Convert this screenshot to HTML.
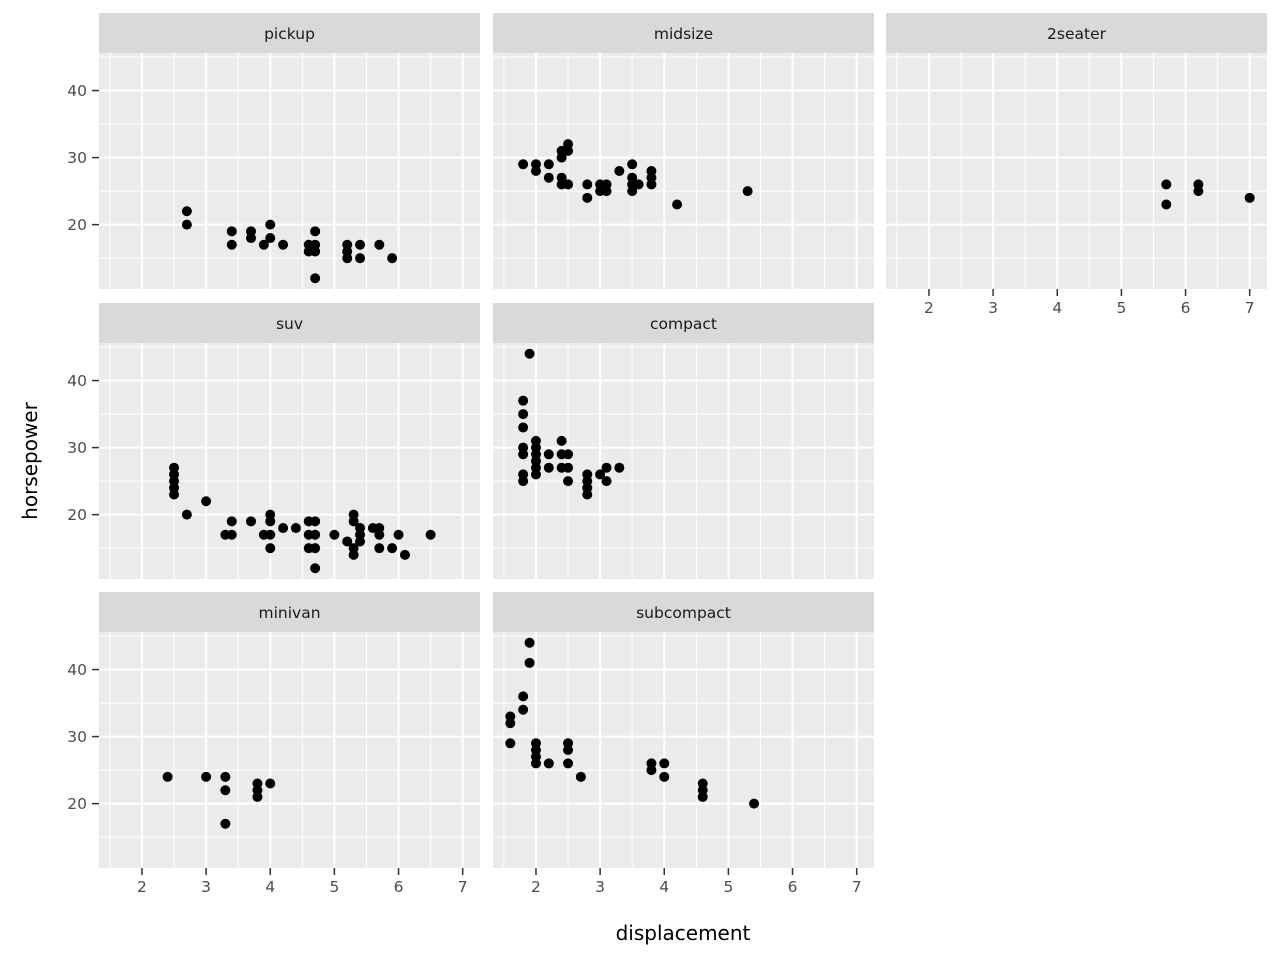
<!DOCTYPE html>
<html><head><meta charset="utf-8"><style>
body{margin:0;background:#fff;}
svg text{font-family:"DejaVu Sans","Liberation Sans",sans-serif;}
</style></head><body>
<svg id="chart" width="1280" height="960" xmlns="http://www.w3.org/2000/svg"></svg>
<script>
const facetNames = ["pickup","midsize","2seater","suv","compact","minivan","subcompact"];
const pickupPts = [[2.7,22],[2.7,20],[3.4,19],[3.4,17],[3.7,19],[3.7,18],[3.9,17],[4.0,20],[4.0,18],[4.2,17],[4.6,17],[4.6,16],[4.7,19],[4.7,17],[4.7,16],[4.7,12],[5.2,17],[5.2,16],[5.2,15],[5.4,17],[5.4,15],[5.7,17],[5.9,15]];
const midsizePts = [[1.8,29],[2.0,29],[2.0,28],[2.2,29],[2.2,27],[2.4,31],[2.4,30],[2.4,27],[2.4,26],[2.5,32],[2.5,31],[2.5,26],[2.8,26],[2.8,24],[3.0,26],[3.0,25],[3.1,26],[3.1,25],[3.3,28],[3.5,29],[3.5,27],[3.5,26],[3.5,25],[3.6,26],[3.8,28],[3.8,27],[3.8,26],[4.2,23],[5.3,25]];
const twoseaterPts = [[5.7,26],[5.7,23],[6.2,26],[6.2,25],[7.0,24]];
const suvPts = [[2.5,27],[2.5,26],[2.5,25],[2.5,24],[2.5,23],[2.7,20],[3.0,22],[3.3,17],[3.4,19],[3.4,17],[3.7,19],[3.9,17],[4.0,20],[4.0,19],[4.0,17],[4.0,15],[4.2,18],[4.4,18],[4.6,19],[4.6,17],[4.6,15],[4.7,19],[4.7,17],[4.7,15],[4.7,12],[5.0,17],[5.2,16],[5.3,20],[5.3,19],[5.3,15],[5.3,14],[5.4,18],[5.4,17],[5.4,16],[5.6,18],[5.7,18],[5.7,17],[5.7,15],[5.9,15],[6.0,17],[6.1,14],[6.5,17]];
const compactPts = [[1.8,37],[1.8,35],[1.8,33],[1.8,30],[1.8,29],[1.8,26],[1.8,25],[1.9,44],[2.0,31],[2.0,30],[2.0,29],[2.0,28],[2.0,27],[2.0,26],[2.2,29],[2.2,27],[2.4,31],[2.4,29],[2.4,27],[2.5,29],[2.5,27],[2.5,25],[2.8,26],[2.8,25],[2.8,24],[2.8,23],[3.0,26],[3.1,27],[3.1,25],[3.3,27]];
const minivanPts = [[2.4,24],[3.0,24],[3.3,24],[3.3,22],[3.3,17],[3.8,23],[3.8,22],[3.8,21],[4.0,23]];
const subcompactPts = [[1.6,33],[1.6,32],[1.6,29],[1.8,36],[1.8,34],[1.9,44],[1.9,41],[2.0,29],[2.0,28],[2.0,27],[2.0,26],[2.2,26],[2.5,29],[2.5,28],[2.5,26],[2.7,24],[3.8,26],[3.8,25],[4.0,26],[4.0,24],[4.6,23],[4.6,22],[4.6,21],[5.4,20]];
const xTicks = [2,3,4,5,6,7];
const yTicks = [20,30,40];
const xMinor = [1.5,2.5,3.5,4.5,5.5,6.5];
const yMinor = [15,25,35,45];

const svg = document.getElementById('chart');
const NS = 'http://www.w3.org/2000/svg';
function mk(tag, attrs, parent){const e=document.createElementNS(NS,tag);for(const k in attrs)e.setAttribute(k,attrs[k]);(parent||svg).appendChild(e);return e;}
const colX=[99,493,886], rowY=[53,343,632], PW=381, PH=236;
const xmin=1.33, xmax=7.27, ymin=10.4, ymax=45.6;
const sx=(c,v)=>colX[c]+(v-xmin)/(xmax-xmin)*PW;
const sy=(r,v)=>rowY[r]+PH-(v-ymin)/(ymax-ymin)*PH;
const allPts=[pickupPts,midsizePts,twoseaterPts,suvPts,compactPts,minivanPts,subcompactPts];
allPts.forEach((pts,i)=>{
  const c=i<3?i%3:(i<5?i-3:i-5), r=i<3?0:(i<5?1:2);
  const g=mk('g',{});
  
  
  mk('rect',{x:colX[c],y:rowY[r],width:PW,height:PH,fill:'#ebebeb'},g);
  xMinor.forEach(v=>mk('line',{x1:sx(c,v),x2:sx(c,v),y1:rowY[r],y2:rowY[r]+PH,stroke:'#fff','stroke-width':1},g));
  yMinor.forEach(v=>{if(v<ymax)mk('line',{x1:colX[c],x2:colX[c]+PW,y1:sy(r,v),y2:sy(r,v),stroke:'#fff','stroke-width':1},g);});
  xTicks.forEach(v=>mk('line',{x1:sx(c,v),x2:sx(c,v),y1:rowY[r],y2:rowY[r]+PH,stroke:'#fff','stroke-width':2},g));
  yTicks.forEach(v=>mk('line',{x1:colX[c],x2:colX[c]+PW,y1:sy(r,v),y2:sy(r,v),stroke:'#fff','stroke-width':2},g));
  const st=mk('rect',{x:colX[c],y:rowY[r]-40,width:PW,height:40,fill:'#d9d9d9'},g);
  
  
  const t=mk('text',{x:colX[c]+PW/2,y:rowY[r]-14,'text-anchor':'middle','font-size':'15.5',fill:'#1a1a1a'},g);
  t.textContent=facetNames[i];
  pts.forEach(p=>{
    const d=mk('circle',{cx:sx(c,p[0]),cy:sy(r,p[1]),r:5,fill:'#000'},g);
    
    
  });
  if(c===0){
    yTicks.forEach(v=>{
      mk('line',{x1:92,x2:99,y1:sy(r,v),y2:sy(r,v),stroke:'#333','stroke-width':1.5},g);
      const l=mk('text',{x:87,y:sy(r,v)+5.5,'text-anchor':'end','font-size':'15.5',fill:'#4d4d4d'},g);
      l.textContent=v;
    });
  }
  if(r===2||i===2){
    const by=rowY[r]+PH;
    xTicks.forEach(v=>{
      mk('line',{x1:sx(c,v),x2:sx(c,v),y1:by,y2:by+7,stroke:'#333','stroke-width':1.5},g);
      const l=mk('text',{x:sx(c,v),y:by+24,'text-anchor':'middle','font-size':'15.5',fill:'#4d4d4d'},g);
      l.textContent=v;
    });
  }
});
const xt=mk('text',{x:683,y:940,'text-anchor':'middle','font-size':'20',fill:'#000'});
xt.textContent='displacement';


const yt=mk('text',{x:0,y:0,transform:'translate(37,461) rotate(-90)','text-anchor':'middle','font-size':'20',fill:'#000'});
yt.textContent='horsepower';


</script>
</body></html>
